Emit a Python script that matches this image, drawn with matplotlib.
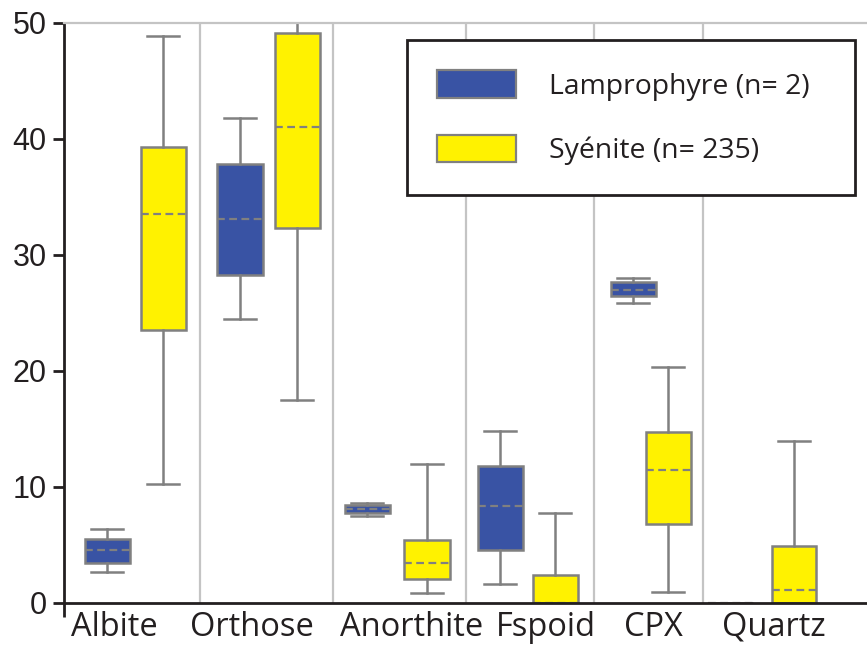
import matplotlib
matplotlib.use('Agg')
import matplotlib.pyplot as plt
from matplotlib.patches import Patch

# minerals and their five-number summaries (whislo, q1, med, q3, whishi)
minerals = ['Albite', 'Orthose', 'Anorthite', 'Fspoid', 'CPX', 'Quartz']

lamp_whislo = [2.6, 24.4, 7.5, 1.6, 25.8, 0.0]
lamp_q1 = [3.4, 28.2, 7.7, 4.5, 26.4, 0.0]
lamp_med = [4.5, 33.1, 8.1, 8.3, 26.9, 0.0]
lamp_q3 = [5.5, 37.8, 8.4, 11.8, 27.6, 0.0]
lamp_whishi = [6.3, 41.8, 8.6, 14.8, 28.0, 0.0]

syen_whislo = [10.2, 17.5, 0.8, 0.0, 0.9, 0.0]
syen_q1 = [23.5, 32.3, 2.0, 0.0, 6.8, 0.0]
syen_med = [33.5, 41.0, 3.4, 0.0, 11.4, 1.1]
syen_q3 = [39.3, 49.1, 5.4, 2.4, 14.7, 4.9]
syen_whishi = [48.8, 52.0, 11.9, 7.7, 20.3, 13.9]

labels = ['Lamprophyre (n= 2)', 'Syénite (n= 235)']

# layout (x in units of 100 px from the y axis)
lamp_pos = [0.435, 1.765, 3.035, 4.365, 5.695, 6.665]
syen_pos = [0.995, 2.335, 3.635, 4.915, 6.045, 7.305]
sep_pos = [1.365, 2.695, 4.025, 5.305, 6.395]
tick_pos = [0.505, 1.885, 3.485, 4.825, 5.895, 7.105]

blue = '#3953a4'
yellow = '#fff200'
edge = '#808080'
ink = '#231f20'


def stats(lo, q1, med, q3, hi):
    return [dict(whislo=a, q1=b, med=c, q3=d, whishi=e, fliers=[])
            for a, b, c, d, e in zip(lo, q1, med, q3, hi)]


fig = plt.figure(figsize=(8.67, 6.58), dpi=100)
ax = fig.add_axes([63.5 / 867, 55.5 / 658, 803.5 / 867, 580 / 658])

for s in sep_pos:
    ax.axvline(s, color='#c4c4c4', lw=1.6, zorder=0)


def draw(st, pos, color):
    ax.bxp(st, positions=pos, widths=0.45, capwidths=0.32, patch_artist=True,
           showfliers=False, manage_ticks=False,
           boxprops=dict(facecolor=color, edgecolor=edge, linewidth=1.8),
           whiskerprops=dict(color=edge, linewidth=1.8),
           capprops=dict(color=edge, linewidth=1.8),
           medianprops=dict(color=edge, linewidth=1.6, linestyle=(0, (3.5, 2))))


draw(stats(lamp_whislo, lamp_q1, lamp_med, lamp_q3, lamp_whishi), lamp_pos, blue)
draw(stats(syen_whislo, syen_q1, syen_med, syen_q3, syen_whishi), syen_pos, yellow)

ax.set_xlim(0, 8.035)
ax.set_ylim(0, 50)
ax.set_yticks([0, 10, 20, 30, 40, 50])
ax.set_xticks(tick_pos)
ax.set_xticklabels(minerals, fontfamily='Open Sans', fontsize=23.5)
ax.set_xticks([0], minor=True)
for t in ax.get_yticklabels():
    t.set_fontfamily('Liberation Sans')
    t.set_fontsize(22)
ax.tick_params(axis='y', length=8, width=2, pad=4, colors=ink)
ax.tick_params(axis='x', which='major', length=0, pad=6, colors=ink)
ax.tick_params(axis='x', which='minor', length=10, width=2, color=ink)

ax.spines['right'].set_visible(False)
ax.spines['top'].set_color('#c4c4c4')
ax.spines['top'].set_linewidth(1.6)
ax.spines['left'].set_linewidth(2)
ax.spines['bottom'].set_linewidth(2)
ax.spines['left'].set_color(ink)
ax.spines['bottom'].set_color(ink)

handles = [Patch(facecolor=blue, edgecolor=edge, linewidth=1.6),
           Patch(facecolor=yellow, edgecolor=edge, linewidth=1.6)]
leg = ax.legend(handles, labels, loc='upper left',
                bbox_to_anchor=(0.4275, 0.706, 0.5575, 0.263), mode='expand',
                prop=dict(family='Open Sans', size=20.4), fancybox=False,
                handlelength=2.8, handleheight=1.13, handletextpad=1.15,
                labelspacing=1.2, borderpad=1.05, borderaxespad=0, framealpha=1)
leg.get_frame().set_edgecolor(ink)
leg.get_frame().set_linewidth(2)
for t in leg.get_texts():
    t.set_color(ink)

fig.savefig('out.png', dpi=100)
